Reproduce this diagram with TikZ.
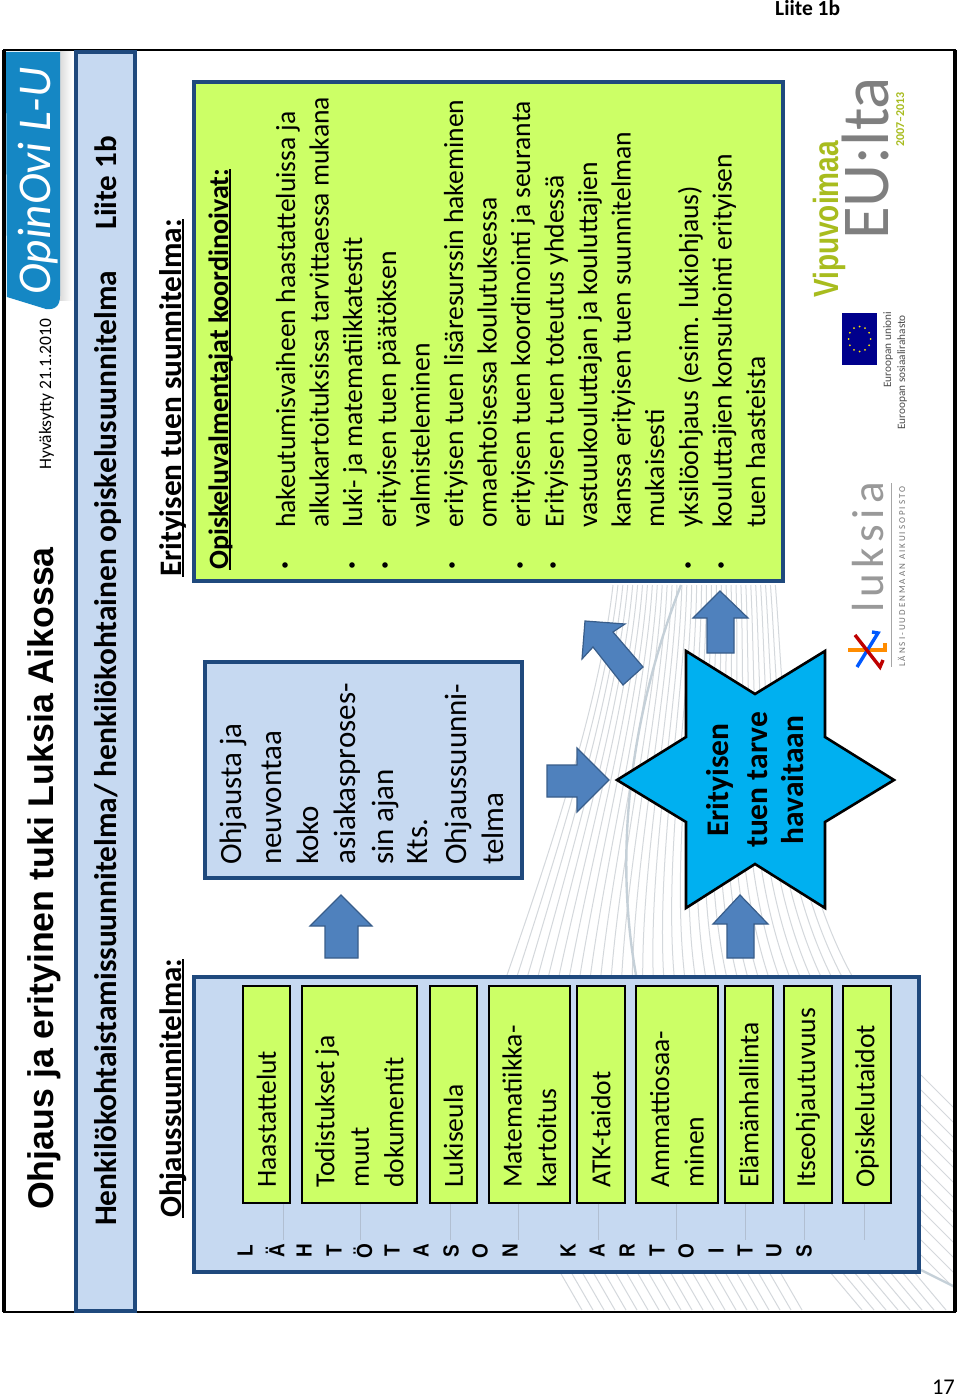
\documentclass[tikz,border=0pt]{standalone}
\usepackage{fontspec}
\setmainfont{Carlito}
\newfontfamily\arialfont{Liberation Sans}
\newfontfamily\spacedfont[LetterSpace=12]{Carlito}
\definecolor{slideblue}{HTML}{C6D9F1}
\definecolor{slideedge}{HTML}{1F497D}
\definecolor{slidegreen}{HTML}{CCFF66}
\definecolor{arrowblue}{HTML}{4F81BD}
\definecolor{arrowedge}{HTML}{385D8A}
\definecolor{starblue}{HTML}{00B0F0}
\definecolor{logoblue}{HTML}{1587C4}
\definecolor{fanline}{HTML}{D4D8DC}
\definecolor{swoosh}{HTML}{C5D0D8}
\definecolor{euolive}{HTML}{A8BC1E}
\definecolor{eugrey}{HTML}{7F7F7F}
\newcommand{\ultext}[1]{\setbox0=\hbox{#1}\rlap{\rule[-2.6pt]{\wd0}{1.6pt}}\box0}
\tikzset{
	slidetext/.style={rotate=90, inner sep=0pt, align=left, text=black},
	panel/.style={draw=slideedge, fill=slideblue, line width=3.6pt},
	skillbox/.style={draw=black, fill=slidegreen, line width=1.6pt, minimum height=217pt, inner sep=0pt},
	blockarrow/.style={draw=arrowedge, fill=arrowblue, line width=1.2pt, line join=miter},
	bulletdot/.style={circle, fill=black, inner sep=0pt, minimum size=5.6pt},
	fan/.style={draw=fanline, line width=1pt},
	faintline/.style={draw=slideblue!85!black!90, line width=0.5pt},
}
\begin{document}
\begin{tikzpicture}[x=1pt,y=-1pt]
	\useasboundingbox (0,0) rectangle (960,1397);
	\fill[white] (0,0) rectangle (960,1397);
	
	% ---- Page texts ----
	\node[anchor=base west, inner sep=0pt] (pagetag) at (775,16) {\fontsize{21.5}{24}\selectfont\bfseries Liite 1b};
	\node[anchor=base east, inner sep=0pt] (pagenum) at (955,1394) {\fontsize{22.5}{24}\selectfont 17};
	
	% ---- Background lines ----
	\begin{scope}
		\clip (5,52) rectangle (953,1310);
		\foreach \t in {0,0.03,...,1.01}
		{
			\pgfmathsetmacro{\xa}{613+164*\t}
			\pgfmathsetmacro{\xb}{507+348*\t}
			\pgfmathsetmacro{\xc}{\xa+(\xb-\xa)*0.12}
			\pgfmathsetmacro{\xd}{\xb+(0.35-0.9*\t)*125}
			\draw[fan] (\xa,585) .. controls (\xc,700) and (\xd,850) .. (\xb,975);
		}
		\foreach \x in {560,571,...,780}
		\draw[fan] (\x,1272) -- ++(22,38);
		\foreach \x in {830,842,...,925}
		\draw[fan] (\x,1272) -- ++(32,38);
		\foreach \y in {1075,1090,...,1260}
		\draw[fan] (921,\y) -- ++(34,34);
		\draw[swoosh, line width=2.4pt] (681,585) .. controls (640,690) and (610,830) .. (636,975);
		\draw[swoosh, line width=2.4pt] (921,1270) -- (953,1286);
	\end{scope}
	
	% ---- Frame ----
	\draw[line width=2.6pt] (4,50) rectangle (955,1312);
	\draw[line width=4.5pt] (4,50) -- (4,1312) (955,50) -- (955,1312);
	
	% ---- Logo top ----
	\shade[left color=black!14, right color=white] (60,52) rectangle (72,300);
	\fill[logoblue] (6,52) -- (60,52) -- (60,296) .. controls (60,306) and (55,310) .. (46,309) -- (7,297) -- cycle;
	\node[slidetext, anchor=base west] (opinovi) at (50,295) {\fontsize{47}{50}\selectfont\color{white}\itshape OpinOvi L-U};
	
	% ---- Title ----
	\node[slidetext, anchor=base west] (title) at (53,1210) {\fontsize{35.7}{40}\selectfont\arialfont\bfseries Ohjaus ja erityinen tuki Luksia Aikossa};
	\node[slidetext, anchor=base west] (approved) at (51,470) {\fontsize{17.5}{20}\selectfont Hyväksytty 21.1.2010};
	
	% ---- Heading bar ----
	\draw[panel] (76,52) rectangle (135,1311);
	\node[slidetext, anchor=base west] (planbar) at (116,1226) {\fontsize{31.4}{34}\selectfont\bfseries Henkilökohtaistamissuunnitelma/ henkilökohtainen opiskelusuunnitelma};
	\node[slidetext, anchor=base west] (liite) at (116,230) {\fontsize{31}{34}\selectfont\bfseries Liite 1b};
	
	% ---- Section headings ----
	\node[slidetext, anchor=base west] (ohjhead) at (181,1218) {\fontsize{31}{34}\selectfont\bfseries\ultext{Ohjaussuunnitelma:}};
	\node[slidetext, anchor=base west] (erihead) at (181,577) {\fontsize{31.3}{34}\selectfont\bfseries\ultext{Erityisen tuen suunnitelma:}};
	
	% ---- Left panel with skills ----
	\draw[panel] (194,977) rectangle (919,1272);
	\foreach \i/\xa/\xb/\lx/\txt in {
		1/243/290/283/Haastattelut,
		2/302/417/360/{Todistukset ja\\muut\\dokumentit},
		3/430/477/450/Lukiseula,
		4/489/570/518/{Matematiikka-\\kartoitus},
		5/577/625/598/ATK-taidot,
		6/636/718/676/{Ammattiosaa-\\minen},
		7/725/773/745/Elämänhallinta,
		8/784/832/804/Itseohjautuvuus,
		9/843/891/864/Opiskelutaidot
	}
	{
		\pgfmathsetmacro{\bw}{\xb-\xa}
		\node[skillbox, minimum width=\bw pt] (skill\i) at ({(\xa+\xb)/2},1094.5) {};
		\node[slidetext, anchor=west, font=\fontsize{27.6}{34.5}\selectfont] (skilltxt\i) at ({(\xa+\xb)/2},1188) {\txt};
		\coordinate (tick\i) at (\lx,1240);
		\draw[faintline] (tick\i |- skill\i.south) -- (tick\i);
	}
	
	% ---- Vertical letters ----
	\foreach \x/\ch in {245/L,275/Ä,304/H,334/T,363/Ö,392/T,421/A,451/S,480/O,510/N,568/K,597/A,627/R,657/T,686/O,716/I,745/T,774/U,804/S}
	\node[slidetext, yscale=1.15, anchor=center, font=\fontsize{19}{22}\selectfont\arialfont\bfseries] (ltr\x) at (\x,1251) {\ch};
	
	% ---- Guidance box ----
	\draw[panel] (205,662) rectangle (522,878);
	\foreach \x/\txt in {241/Ohjausta ja,281/neuvontaa,318/koko,355/asiakasproses-,393/sin ajan,427/Kts.,466/Ohjaussuunni-,503/telma}
	\node[slidetext, anchor=base west] (guide\x) at (\x,865) {\fontsize{31}{34}\selectfont\txt};
	
	% ---- Arrows ----
	\draw[blockarrow] (341,895) -- (372,926) -- (358,926) -- (358,958) -- (325,958) -- (325,926) -- (310,926) -- cycle;
	\draw[blockarrow] (740,895) -- (768,924) -- (754,924) -- (754,958) -- (727,958) -- (727,924) -- (713,924) -- cycle;
	\draw[blockarrow] (720,591) -- (748,618) -- (734,618) -- (734,653) -- (707,653) -- (707,618) -- (693,618) -- cycle;
	\draw[blockarrow] (609,780) -- (577,812) -- (577,797) -- (547,797) -- (547,765) -- (577,765) -- (577,748) -- cycle;
	\draw[blockarrow] (585,621) -- (625,624) -- (613,632) -- (643,667) -- (623,685) -- (593,647) -- (582,659) -- cycle;
	
	% ---- Star ----
	\draw[draw=black, fill=starblue, line width=2.6pt, line join=miter] (686,651) -- (755,694) -- (825,651) -- (825,737) -- (894,780) -- (825,822) -- (825,908) -- (755,864) -- (686,908) -- (686,822) -- (617,780) -- (686,737) -- cycle;
	\foreach \x/\txt in {728/Erityisen,767/tuen tarve,803/havaitaan}
	\node[slidetext, anchor=base] (starline\x) at (\x,780) {\fontsize{31.5}{34}\selectfont\bfseries\txt};
	
	% ---- Coordination box ----
	\draw[panel, fill=slidegreen] (194,82) rectangle (783,581);
	\node[slidetext, anchor=base west] (coordhead) at (228,570) {\fontsize{28}{31}\selectfont\bfseries\ultext{Opiskeluvalmentajat koordinoivat:}};
	\foreach \x/\txt in {
		295/hakeutumisvaiheen haastatteluissa ja,
		328.6/alkukartoituksissa tarvittaessa mukana,
		362/luki- ja matematiikkatestit,
		396/erityisen tuen päätöksen,
		429.5/valmisteleminen,
		463/erityisen tuen lisäresurssin hakeminen,
		496.5/omaehtoisessa koulutuksessa,
		530/erityisen tuen koordinointi ja seuranta,
		563.5/Erityisen tuen toteutus yhdessä,
		597/vastuukouluttajan ja kouluttajien,
		630.5/kanssa erityisen tuen suunnitelman,
		664/mukaisesti,
		698/yksilöohjaus (esim. lukiohjaus),
		731.5/kouluttajien konsultointi erityisen,
		765/tuen haasteista
	}
	\node[slidetext, anchor=base west] (task\x) at (\x,528) {\fontsize{27.6}{30}\selectfont\txt};
	\foreach \x in {285,352,385,452,520,553,688,721}
	\node[bulletdot] (dot\x) at (\x,565) {};
	
	% ---- Luksia logo ----
	\node[slidetext, anchor=base west] (luksia) at (883,613) {\fontsize{45}{48}\selectfont\spacedfont\color{black!40}luksia};
	\draw[black!35, line width=1pt] (891,483) -- (891,667);
	\node[slidetext, anchor=base west] (luksiasub) at (905,667) {\fontsize{9}{11}\addfontfeature{LetterSpace=22}\selectfont\color{black!55}LÄNSI-UUDENMAAN AIKUISOPISTO};
	\draw[orange!90!yellow, line width=3.4pt] (848,650) -- (885,650) -- (885,643);
	\draw[blue!65!cyan, line width=3.4pt] (857,667) -- (878,633) -- (872,632);
	\draw[red!75!black, line width=3.4pt] (855,635) -- (880,667) -- (883,660);
	
	% ---- EU logo ----
	\node[slidetext, yscale=1.25, anchor=base west] (vipu) at (838,298) {\fontsize{28}{31}\selectfont\arialfont\bfseries\color{euolive}Vipuvoimaa};
	\node[slidetext, anchor=base west] (eulta) at (888,240) {\fontsize{67}{70}\selectfont\color{eugrey}EU:lta};
	\node[slidetext, anchor=base west] (euyear) at (904,147) {\fontsize{12}{14}\selectfont\bfseries\color{euolive}2007–2013};
	\fill[blue!55!black] (842,313) rectangle (877,365);
	\foreach \a in {0,30,...,330}
	\fill[yellow!90!orange] ({859.5+11*cos(\a)},{339+12.5*sin(\a)}) circle (1pt);
	\node[slidetext, anchor=base west] (euunion) at (891,388) {\fontsize{11.3}{13}\selectfont\color{black!70}Euroopan unioni};
	\node[slidetext, anchor=base west] (eufund) at (905,430) {\fontsize{11.3}{13}\selectfont\color{black!70}Euroopan sosiaalirahasto};
	
\end{tikzpicture}
\end{document}
